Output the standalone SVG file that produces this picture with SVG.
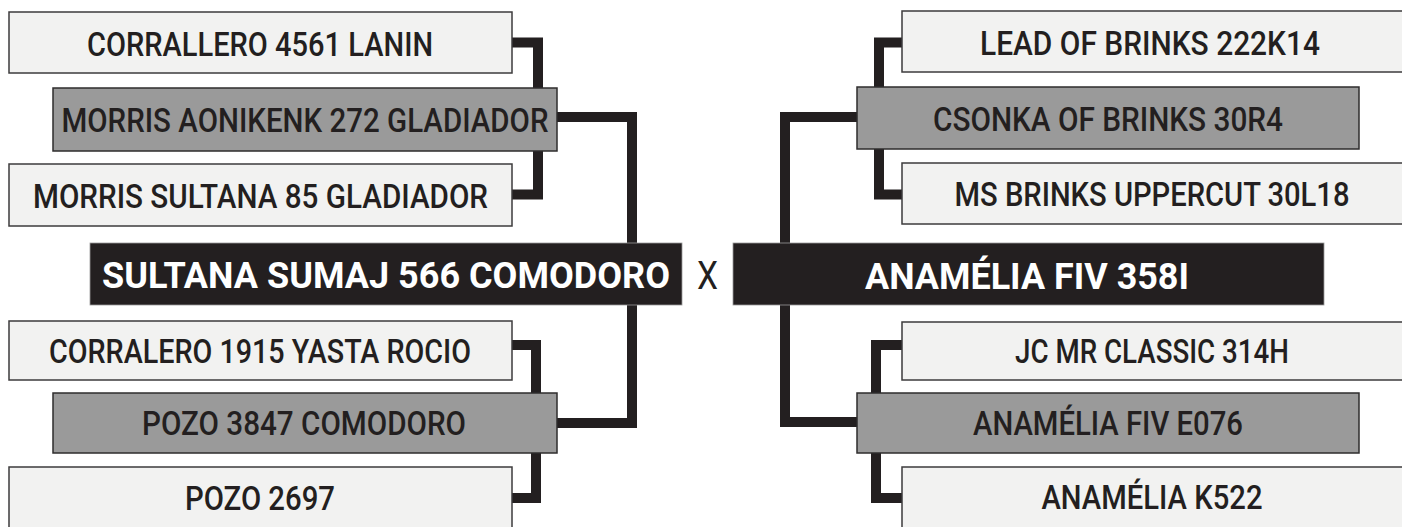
<svg xmlns="http://www.w3.org/2000/svg" width="1402" height="527" viewBox="0 0 1402 527">
<style>
.lt{fill:#f2f2f1;stroke:#3d3b3c;stroke-width:1.5}
.gr{fill:#9a9a9a;stroke:#2e2c2d;stroke-width:1.5}
.bk{fill:#231f20;stroke:#9a9a9a;stroke-width:0.8}
.t{font-family:Roboto,"Liberation Sans",sans-serif;font-weight:500;font-size:32.5px;fill:#231f20;text-anchor:middle}
.tm{font-family:Roboto,"Liberation Sans",sans-serif;font-weight:700;font-size:37.5px;fill:#ffffff;text-anchor:middle}
.x{font-family:Roboto,"Liberation Sans",sans-serif;font-weight:400;font-size:39px;fill:#231f20;text-anchor:middle}
.c{fill:none;stroke:#231f20;stroke-width:10;stroke-linejoin:miter;stroke-linecap:butt}
</style>
<rect width="1402" height="527" fill="#ffffff"/>
<g id="connectors">
<path class="c" d="M512,42.5 H538 V194.5 H512"/>
<path class="c" d="M557,117 H632 V423 H557"/>
<path class="c" d="M512,345 H536 V498 H512"/>
<path class="c" d="M902,42.5 H879 V194.5 H902"/>
<path class="c" d="M857,117 H785 V422 H857"/>
<path class="c" d="M902,345 H876 V498 H902"/>
</g>
<g id="n-corrallero-4561">
<rect class="lt" x="9" y="12" width="503" height="61"/>
<text class="t" x="260" y="56" textLength="346" lengthAdjust="spacingAndGlyphs">CORRALLERO 4561 LANIN</text>
</g>
<g id="n-morris-aonikenk">
<rect class="gr" x="53" y="88" width="504" height="63"/>
<text class="t" x="305" y="132" textLength="487" lengthAdjust="spacingAndGlyphs">MORRIS AONIKENK 272 GLADIADOR</text>
</g>
<g id="n-morris-sultana">
<rect class="lt" x="9" y="164" width="503" height="62"/>
<text class="t" x="260.5" y="208" textLength="455" lengthAdjust="spacingAndGlyphs">MORRIS SULTANA 85 GLADIADOR</text>
</g>
<g id="n-sultana-sumaj">
<rect class="bk" x="90" y="243" width="592" height="62"/>
<text class="tm" x="386" y="288" textLength="568" lengthAdjust="spacingAndGlyphs">SULTANA SUMAJ 566 COMODORO</text>
</g>
<g id="n-corralero-1915">
<rect class="lt" x="9" y="321" width="503" height="59"/>
<text class="t" x="260" y="363" textLength="422" lengthAdjust="spacingAndGlyphs">CORRALERO 1915 YASTA ROCIO</text>
</g>
<g id="n-pozo-3847">
<rect class="gr" x="53" y="393" width="504" height="60"/>
<text class="t" x="304" y="435" textLength="324" lengthAdjust="spacingAndGlyphs">POZO 3847 COMODORO</text>
</g>
<g id="n-pozo-2697">
<rect class="lt" x="9" y="467" width="503" height="62"/>
<text class="t" x="260" y="510" textLength="150" lengthAdjust="spacingAndGlyphs">POZO 2697</text>
</g>
<g id="cross">
<text class="x" x="707.5" y="289" textLength="21" lengthAdjust="spacingAndGlyphs">X</text>
</g>
<g id="n-lead-of-brinks">
<rect class="lt" x="902" y="11" width="503" height="61"/>
<text class="t" x="1150" y="55" textLength="340" lengthAdjust="spacingAndGlyphs">LEAD OF BRINKS 222K14</text>
</g>
<g id="n-csonka">
<rect class="gr" x="857" y="87" width="502" height="62"/>
<text class="t" x="1108" y="131" textLength="350" lengthAdjust="spacingAndGlyphs">CSONKA OF BRINKS 30R4</text>
</g>
<g id="n-ms-brinks">
<rect class="lt" x="902" y="163" width="503" height="61"/>
<text class="t" x="1152" y="206" textLength="395" lengthAdjust="spacingAndGlyphs">MS BRINKS UPPERCUT 30L18</text>
</g>
<g id="n-anamelia-358i">
<rect class="bk" x="733" y="243" width="591" height="62"/>
<text class="tm" x="1027" y="289" textLength="324" lengthAdjust="spacingAndGlyphs">ANAMÉLIA FIV 358I</text>
</g>
<g id="n-jc-mr-classic">
<rect class="lt" x="902" y="322" width="503" height="58"/>
<text class="t" x="1152" y="363" textLength="274" lengthAdjust="spacingAndGlyphs">JC MR CLASSIC 314H</text>
</g>
<g id="n-anamelia-e076">
<rect class="gr" x="857" y="393" width="502" height="60"/>
<text class="t" x="1108" y="435" textLength="270" lengthAdjust="spacingAndGlyphs">ANAMÉLIA FIV E076</text>
</g>
<g id="n-anamelia-k522">
<rect class="lt" x="902" y="467" width="503" height="62"/>
<text class="t" x="1152" y="509" textLength="221" lengthAdjust="spacingAndGlyphs">ANAMÉLIA K522</text>
</g>
</svg>
